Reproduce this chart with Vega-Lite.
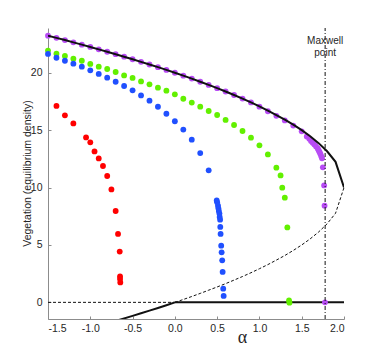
{
  "$schema": "https://vega.github.io/schema/vega-lite/v6.json",
  "width": 296,
  "height": 291,
  "autosize": {"type": "none"},
  "padding": {"left": 48, "top": 28, "right": 38, "bottom": 41},
  "background": "white",
  "config": {
    "view": {"stroke": null},
    "axis": {
      "grid": false,
      "domainColor": "#8c8c8c",
      "domainWidth": 1,
      "tickColor": "#8c8c8c",
      "tickSize": -3,
      "labelFont": "Liberation Sans",
      "labelFontSize": 10.5,
      "labelColor": "#262626",
      "titleFont": "Liberation Sans",
      "titleFontWeight": "normal",
      "titleColor": "#262626"
    }
  },
  "datasets": {
    "dots": [
      {"a": -1.5, "v": 23.23, "s": "purple"}, {"a": -1.4, "v": 23.04, "s": "purple"}, {"a": -1.3, "v": 22.85, "s": "purple"},
      {"a": -1.2, "v": 22.65, "s": "purple"}, {"a": -1.1, "v": 22.45, "s": "purple"}, {"a": -1.0, "v": 22.25, "s": "purple"},
      {"a": -0.9, "v": 22.04, "s": "purple"}, {"a": -0.8, "v": 21.83, "s": "purple"}, {"a": -0.7, "v": 21.62, "s": "purple"},
      {"a": -0.6, "v": 21.40, "s": "purple"}, {"a": -0.5, "v": 21.18, "s": "purple"}, {"a": -0.4, "v": 20.95, "s": "purple"},
      {"a": -0.3, "v": 20.72, "s": "purple"}, {"a": -0.2, "v": 20.49, "s": "purple"}, {"a": -0.1, "v": 20.25, "s": "purple"},
      {"a": 0.0, "v": 20.0, "s": "purple"}, {"a": 0.1, "v": 19.75, "s": "purple"}, {"a": 0.2, "v": 19.49, "s": "purple"},
      {"a": 0.3, "v": 19.22, "s": "purple"}, {"a": 0.4, "v": 18.94, "s": "purple"}, {"a": 0.5, "v": 18.66, "s": "purple"},
      {"a": 0.6, "v": 18.37, "s": "purple"}, {"a": 0.7, "v": 18.06, "s": "purple"}, {"a": 0.8, "v": 17.75, "s": "purple"},
      {"a": 0.9, "v": 17.42, "s": "purple"}, {"a": 1.0, "v": 17.05, "s": "purple"}, {"a": 1.1, "v": 16.65, "s": "purple"},
      {"a": 1.2, "v": 16.25, "s": "purple"}, {"a": 1.3, "v": 15.85, "s": "purple"}, {"a": 1.4, "v": 15.4, "s": "purple"},
      {"a": 1.5, "v": 14.9, "s": "purple"}, {"a": 1.56, "v": 14.45, "s": "purple"}, {"a": 1.59, "v": 14.25, "s": "purple"},
      {"a": 1.61, "v": 14.05, "s": "purple"}, {"a": 1.63, "v": 13.9, "s": "purple"}, {"a": 1.65, "v": 13.75, "s": "purple"},
      {"a": 1.67, "v": 13.58, "s": "purple"}, {"a": 1.69, "v": 13.4, "s": "purple"}, {"a": 1.7, "v": 13.25, "s": "purple"},
      {"a": 1.71, "v": 13.1, "s": "purple"}, {"a": 1.72, "v": 12.95, "s": "purple"}, {"a": 1.73, "v": 12.75, "s": "purple"},
      {"a": 1.74, "v": 12.55, "s": "purple"}, {"a": 1.75, "v": 11.76, "s": "purple"}, {"a": 1.765, "v": 10.19, "s": "purple"},
      {"a": 1.77, "v": 8.42, "s": "purple"}, {"a": 1.775, "v": 0.0, "s": "purple"},

      {"a": -1.5, "v": 21.93, "s": "green"}, {"a": -1.4, "v": 21.66, "s": "green"}, {"a": -1.3, "v": 21.46, "s": "green"},
      {"a": -1.2, "v": 21.23, "s": "green"}, {"a": -1.1, "v": 21.05, "s": "green"}, {"a": -1.0, "v": 20.77, "s": "green"},
      {"a": -0.9, "v": 20.53, "s": "green"}, {"a": -0.8, "v": 20.33, "s": "green"}, {"a": -0.7, "v": 20.07, "s": "green"},
      {"a": -0.6, "v": 19.77, "s": "green"}, {"a": -0.5, "v": 19.55, "s": "green"}, {"a": -0.4, "v": 19.25, "s": "green"},
      {"a": -0.3, "v": 18.99, "s": "green"}, {"a": -0.2, "v": 18.7, "s": "green"}, {"a": -0.1, "v": 18.44, "s": "green"},
      {"a": 0.0, "v": 18.12, "s": "green"}, {"a": 0.1, "v": 17.74, "s": "green"}, {"a": 0.2, "v": 17.4, "s": "green"},
      {"a": 0.3, "v": 17.05, "s": "green"}, {"a": 0.4, "v": 16.67, "s": "green"}, {"a": 0.5, "v": 16.32, "s": "green"},
      {"a": 0.6, "v": 15.89, "s": "green"}, {"a": 0.7, "v": 15.45, "s": "green"}, {"a": 0.8, "v": 14.93, "s": "green"},
      {"a": 0.9, "v": 14.35, "s": "green"}, {"a": 1.0, "v": 13.68, "s": "green"}, {"a": 1.1, "v": 12.89, "s": "green"},
      {"a": 1.2, "v": 11.73, "s": "green"}, {"a": 1.25, "v": 11.06, "s": "green"}, {"a": 1.27, "v": 9.99, "s": "green"},
      {"a": 1.3, "v": 9.12, "s": "green"}, {"a": 1.33, "v": 6.53, "s": "green"}, {"a": 1.35, "v": 0.17, "s": "green"},
      {"a": 1.355, "v": -0.03, "s": "green"},

      {"a": -1.5, "v": 21.64, "s": "blue"}, {"a": -1.4, "v": 21.31, "s": "blue"}, {"a": -1.3, "v": 21.05, "s": "blue"},
      {"a": -1.2, "v": 20.79, "s": "blue"}, {"a": -1.1, "v": 20.53, "s": "blue"}, {"a": -1.0, "v": 20.21, "s": "blue"},
      {"a": -0.9, "v": 19.9, "s": "blue"}, {"a": -0.8, "v": 19.57, "s": "blue"}, {"a": -0.7, "v": 19.22, "s": "blue"},
      {"a": -0.6, "v": 18.85, "s": "blue"}, {"a": -0.5, "v": 18.47, "s": "blue"}, {"a": -0.4, "v": 18.03, "s": "blue"},
      {"a": -0.3, "v": 17.57, "s": "blue"}, {"a": -0.2, "v": 17.04, "s": "blue"}, {"a": -0.1, "v": 16.43, "s": "blue"},
      {"a": 0.0, "v": 15.78, "s": "blue"}, {"a": 0.1, "v": 15.05, "s": "blue"}, {"a": 0.2, "v": 14.17, "s": "blue"},
      {"a": 0.3, "v": 13.0, "s": "blue"}, {"a": 0.4, "v": 11.5, "s": "blue"},
      {"a": 0.495, "v": 8.88, "s": "blue"}, {"a": 0.5, "v": 8.71, "s": "blue"}, {"a": 0.51, "v": 8.42, "s": "blue"},
      {"a": 0.515, "v": 8.19, "s": "blue"}, {"a": 0.52, "v": 7.96, "s": "blue"}, {"a": 0.527, "v": 7.73, "s": "blue"},
      {"a": 0.53, "v": 7.44, "s": "blue"}, {"a": 0.535, "v": 7.2, "s": "blue"}, {"a": 0.537, "v": 6.57, "s": "blue"},
      {"a": 0.541, "v": 5.96, "s": "blue"}, {"a": 0.548, "v": 4.94, "s": "blue"}, {"a": 0.553, "v": 4.36, "s": "blue"},
      {"a": 0.56, "v": 3.66, "s": "blue"}, {"a": 0.565, "v": 2.65, "s": "blue"}, {"a": 0.572, "v": 1.19, "s": "blue"},
      {"a": 0.577, "v": 0.56, "s": "blue"},

      {"a": -1.4, "v": 17.11, "s": "red"}, {"a": -1.3, "v": 16.29, "s": "red"}, {"a": -1.2, "v": 15.59, "s": "red"},
      {"a": -1.05, "v": 14.37, "s": "red"}, {"a": -1.0, "v": 13.94, "s": "red"}, {"a": -0.95, "v": 13.15, "s": "red"},
      {"a": -0.9, "v": 12.54, "s": "red"}, {"a": -0.85, "v": 11.88, "s": "red"}, {"a": -0.8, "v": 11.01, "s": "red"},
      {"a": -0.75, "v": 9.84, "s": "red"}, {"a": -0.7, "v": 7.96, "s": "red"}, {"a": -0.672, "v": 5.96, "s": "red"},
      {"a": -0.652, "v": 4.42, "s": "red"}, {"a": -0.648, "v": 2.26, "s": "red"}, {"a": -0.648, "v": 2.04, "s": "red"},
      {"a": -0.645, "v": 1.74, "s": "red"}
    ],
    "curves": [
      {"a": -1.5, "v": 23.23, "seg": "up"}, {"a": -1.4, "v": 23.04, "seg": "up"}, {"a": -1.3, "v": 22.85, "seg": "up"},
      {"a": -1.2, "v": 22.65, "seg": "up"}, {"a": -1.1, "v": 22.45, "seg": "up"}, {"a": -1.0, "v": 22.25, "seg": "up"},
      {"a": -0.9, "v": 22.04, "seg": "up"}, {"a": -0.8, "v": 21.83, "seg": "up"}, {"a": -0.7, "v": 21.62, "seg": "up"},
      {"a": -0.6, "v": 21.4, "seg": "up"}, {"a": -0.5, "v": 21.18, "seg": "up"}, {"a": -0.4, "v": 20.95, "seg": "up"},
      {"a": -0.3, "v": 20.72, "seg": "up"}, {"a": -0.2, "v": 20.49, "seg": "up"}, {"a": -0.1, "v": 20.25, "seg": "up"},
      {"a": 0.0, "v": 20.0, "seg": "up"}, {"a": 0.1, "v": 19.75, "seg": "up"}, {"a": 0.2, "v": 19.49, "seg": "up"},
      {"a": 0.3, "v": 19.22, "seg": "up"}, {"a": 0.4, "v": 18.94, "seg": "up"}, {"a": 0.5, "v": 18.66, "seg": "up"},
      {"a": 0.6, "v": 18.37, "seg": "up"}, {"a": 0.7, "v": 18.06, "seg": "up"}, {"a": 0.8, "v": 17.75, "seg": "up"},
      {"a": 0.9, "v": 17.42, "seg": "up"}, {"a": 1.0, "v": 17.07, "seg": "up"}, {"a": 1.1, "v": 16.71, "seg": "up"},
      {"a": 1.2, "v": 16.32, "seg": "up"}, {"a": 1.3, "v": 15.92, "seg": "up"}, {"a": 1.4, "v": 15.48, "seg": "up"},
      {"a": 1.5, "v": 15.0, "seg": "up"}, {"a": 1.6, "v": 14.47, "seg": "up"}, {"a": 1.7, "v": 13.87, "seg": "up"},
      {"a": 1.8, "v": 13.16, "seg": "up"}, {"a": 1.9, "v": 12.24, "seg": "up"}, {"a": 2.0, "v": 10.0, "seg": "up"},

      {"a": 0.0, "v": 0.0, "seg": "ld"}, {"a": 0.1, "v": 0.25, "seg": "ld"}, {"a": 0.2, "v": 0.51, "seg": "ld"},
      {"a": 0.3, "v": 0.78, "seg": "ld"}, {"a": 0.4, "v": 1.06, "seg": "ld"}, {"a": 0.5, "v": 1.34, "seg": "ld"},
      {"a": 0.6, "v": 1.63, "seg": "ld"}, {"a": 0.7, "v": 1.94, "seg": "ld"}, {"a": 0.8, "v": 2.25, "seg": "ld"},
      {"a": 0.9, "v": 2.58, "seg": "ld"}, {"a": 1.0, "v": 2.93, "seg": "ld"}, {"a": 1.1, "v": 3.29, "seg": "ld"},
      {"a": 1.2, "v": 3.68, "seg": "ld"}, {"a": 1.3, "v": 4.08, "seg": "ld"}, {"a": 1.4, "v": 4.52, "seg": "ld"},
      {"a": 1.5, "v": 5.0, "seg": "ld"}, {"a": 1.6, "v": 5.53, "seg": "ld"}, {"a": 1.7, "v": 6.13, "seg": "ld"},
      {"a": 1.8, "v": 6.84, "seg": "ld"}, {"a": 1.9, "v": 7.76, "seg": "ld"}, {"a": 2.0, "v": 10.0, "seg": "ld"},

      {"a": -0.7, "v": -1.62, "seg": "ls"}, {"a": -0.6, "v": -1.4, "seg": "ls"}, {"a": -0.5, "v": -1.18, "seg": "ls"},
      {"a": -0.4, "v": -0.95, "seg": "ls"}, {"a": -0.3, "v": -0.72, "seg": "ls"}, {"a": -0.2, "v": -0.49, "seg": "ls"},
      {"a": -0.1, "v": -0.25, "seg": "ls"}, {"a": 0.0, "v": 0.0, "seg": "ls"},

      {"a": -1.5, "v": 0.0, "seg": "z1"}, {"a": 0.0, "v": 0.0, "seg": "z1"},
      {"a": 0.0, "v": 0.0, "seg": "z2"}, {"a": 2.0, "v": 0.0, "seg": "z2"}
    ],
    "maxwell": [{"a": 1.777, "v": -1.45, "v2": 23.9}],
    "labels": [
      {"a": 1.777, "v": 22.8, "label": "Maxwell"},
      {"a": 1.777, "v": 21.75, "label": "point"}
    ]
  },
  "encoding": {
    "x": {"field": "a", "type": "quantitative", "scale": {"domain": [-1.5, 2], "nice": false, "zero": false},
      "axis": {"values": [-1.5, -1, -0.5, 0, 0.5, 1, 1.5, 2], "labelExpr": "replace(datum.label, '\u2212', '-')",
        "labelPadding": 7, "title": "\u03b1", "titleFont": "Liberation Serif", "titleFontSize": 18,
        "titleX": 194, "titleY": 23, "titleBaseline": "alphabetic", "titleAlign": "center"}},
    "y": {"field": "v", "type": "quantitative", "scale": {"domain": [-1.45, 23.9], "nice": false, "zero": false},
      "axis": {"values": [0, 5, 10, 15, 20], "labelPadding": 9, "title": "Vegetation (equilibrium density)",
        "titleFontSize": 10.5, "titleX": -21, "titleY": 145, "titleAngle": -90, "titleBaseline": "middle", "titleAlign": "center"}}
  },
  "layer": [
    {
      "data": {"name": "curves"},
      "transform": [{"filter": {"field": "seg", "oneOf": ["z1", "ld"]}}],
      "mark": {"type": "line", "color": "#111111", "strokeWidth": 1, "strokeDash": [3, 2]},
      "encoding": {"detail": {"field": "seg"}}
    },
    {
      "data": {"name": "curves"},
      "transform": [{"filter": {"field": "seg", "oneOf": ["z2"]}}],
      "mark": {"type": "line", "color": "#111111", "strokeWidth": 2},
      "encoding": {}
    },
    {
      "data": {"name": "dots"},
      "mark": {"type": "circle", "size": 34, "opacity": 1},
      "encoding": {
        "color": {"field": "s", "type": "nominal", "legend": null,
          "scale": {"domain": ["purple", "green", "blue", "red"], "range": ["#b84cf5", "#62f000", "#2050ff", "#ff0000"]}}
      }
    },
    {
      "data": {"name": "curves"},
      "transform": [{"filter": {"field": "seg", "oneOf": ["up", "ls"]}}],
      "mark": {"type": "line", "color": "#111111", "strokeWidth": 2, "clip": true},
      "encoding": {"detail": {"field": "seg"}}
    },
    {
      "data": {"name": "maxwell"},
      "mark": {"type": "rule", "color": "#111111", "strokeWidth": 1, "strokeDash": [4, 2, 1, 2]},
      "encoding": {"y2": {"field": "v2"}}
    },
    {
      "data": {"name": "labels"},
      "mark": {"type": "text", "font": "Liberation Sans", "fontSize": 10, "color": "#262626", "align": "center", "baseline": "middle"},
      "encoding": {"text": {"field": "label"}}
    }
  ]
}
